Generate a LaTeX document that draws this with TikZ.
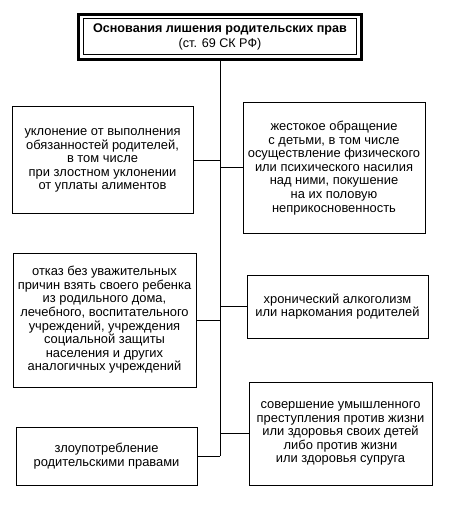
\documentclass[tikz,border=0pt]{standalone}
\usepackage{fontspec}
\setmainfont{Liberation Sans}
\usetikzlibrary{positioning}
\tikzset{pxgrid/.style={x=1pt,y=-1pt}}
\tikzset{cause/.style={draw,line width=1pt,align=center,inner sep=2pt,
           font=\fontsize{12.9}{13.6}\selectfont},
         headbox/.style={draw,line width=1pt,align=center,minimum width=273pt,
           minimum height=36pt,inner sep=1pt,font=\fontsize{12.6}{15.5}\selectfont},
         headframe/.style={draw,line width=2.8pt,minimum width=283pt,minimum height=45pt},
         link/.style={line width=1pt}}

\begin{document}
\begin{tikzpicture}[pxgrid]
    \useasboundingbox (0,0) rectangle (448,510);
    % title
    \node[headframe] (frame) at (220,37) {};
    \node[headbox] (head) at (220,37) {\textbf{Основания лишения родительских прав}\\(ст. 69 СК РФ)};
    % left column
    \node[cause,minimum width=181pt,minimum height=107pt] (l1) at (102.5,160.5)
      {уклонение от выполнения\\обязанностей родителей,\\в том числе\\при злостном уклонении\\от уплаты алиментов};
    \node[cause,minimum width=183pt,minimum height=134pt] (l2) at (104.5,320)
      {отказ без уважительных\\причин взять своего ребенка\\из родильного дома,\\лечебного, воспитательного\\учреждений, учреждения\\социальной защиты\\населения и других\\аналогичных учреждений};
    \node[cause,minimum width=181pt,minimum height=58pt] (l3) at (106.5,456)
      {злоупотребление\\родительскими правами};
    % right column
    \node[cause,minimum width=182pt,minimum height=130pt] (r1) at (334,168)
      {жестокое обращение\\с детьми, в том числе\\осуществление физического\\или психического насилия\\над ними, покушение\\на их половую\\неприкосновенность};
    \node[cause,minimum width=181pt,minimum height=63pt] (r2) at (337.5,306.5)
      {хронический алкоголизм\\или наркомания родителей};
    \node[cause,minimum width=183pt,minimum height=103pt] (r3) at (340.5,433.5)
      {совершение умышленного\\преступления против жизни\\или здоровья своих детей\\либо против жизни\\или здоровья супруга};
    % trunk and branches
    \draw[link] (frame.south) -- (l3.east -| frame.south);
    \foreach \b in {l1,l2,l3,r1,r2,r3}
      \draw[link] (\b) -- (\b -| frame.south);
\end{tikzpicture}
\end{document}
